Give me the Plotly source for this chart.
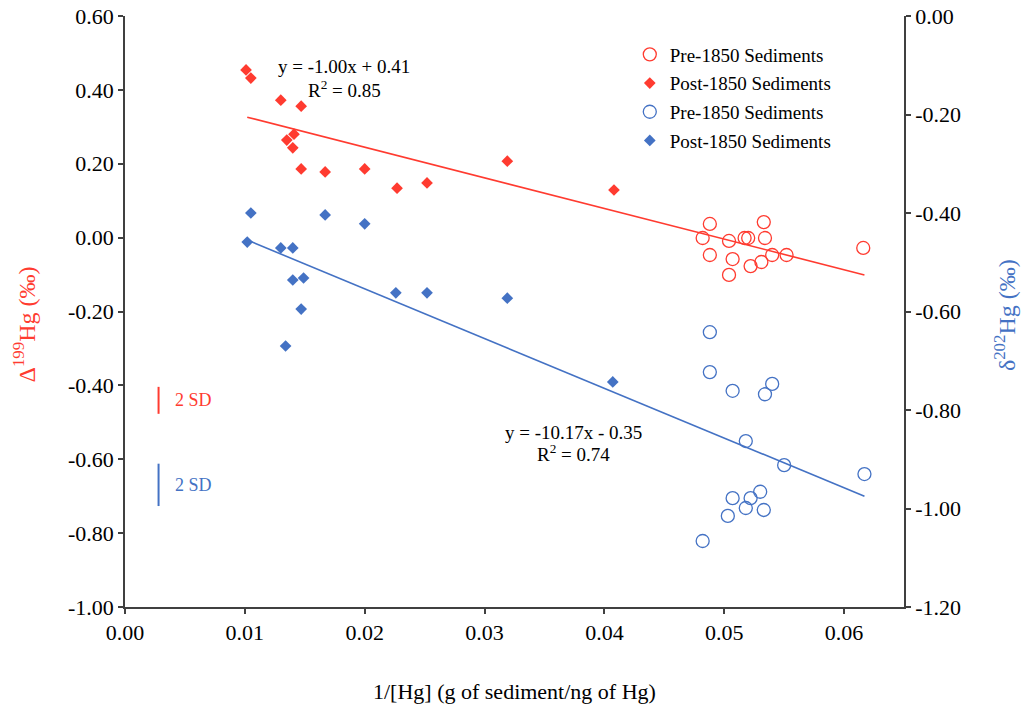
import plotly.graph_objects as go

RED = "#FF3B30"
BLUE = "#4472C4"
AXIS = "#404040"
FONT = "Liberation Serif"

# Post-1850 sediments
post_x_red = [0.0101, 0.0105, 0.0130, 0.0147, 0.0141, 0.0135, 0.0140, 0.0147,
              0.0167, 0.0200, 0.0227, 0.0252, 0.0319, 0.0408]
post_d199 = [0.454, 0.432, 0.372, 0.356, 0.280, 0.264, 0.243, 0.186,
             0.178, 0.186, 0.134, 0.148, 0.207, 0.129]
post_x_blue = [0.0105, 0.0102, 0.0130, 0.0140, 0.0140, 0.0149, 0.0147, 0.0134,
               0.0167, 0.0200, 0.0226, 0.0252, 0.0319, 0.0407]
post_d202 = [-0.400, -0.459, -0.471, -0.471, -0.536, -0.532, -0.595, -0.670,
             -0.404, -0.422, -0.562, -0.562, -0.573, -0.743]

# Pre-1850 sediments
pre_x_red = [0.0488, 0.0533, 0.0482, 0.0504, 0.0517, 0.0520, 0.0534, 0.0488,
             0.0507, 0.0540, 0.0552, 0.0522, 0.0531, 0.0504, 0.0616]
pre_d199 = [0.037, 0.042, -0.001, -0.009, -0.001, -0.001, -0.001, -0.047,
            -0.058, -0.047, -0.047, -0.077, -0.066, -0.101, -0.028]
pre_x_blue = [0.0488, 0.0488, 0.0507, 0.0540, 0.0534, 0.0518, 0.0550, 0.0617,
              0.0530, 0.0522, 0.0507, 0.0518, 0.0533, 0.0503, 0.0482]
pre_d202 = [-0.642, -0.723, -0.761, -0.747, -0.768, -0.863, -0.912, -0.930,
            -0.966, -0.979, -0.979, -0.999, -1.003, -1.015, -1.066]

# Linear fits (end points as drawn)
fit_x = [0.0102, 0.0617]
fit_d199 = [0.326, -0.101]
fit_d202 = [-0.455, -0.975]

# 2 SD bars
sd_x = 0.0028
sd_d199 = [-0.477, -0.404]
sd_d202 = [-0.995, -0.909]

# Axis ticks
x_ticks = [0.00, 0.01, 0.02, 0.03, 0.04, 0.05, 0.06]
x_labels = ["0.00", "0.01", "0.02", "0.03", "0.04", "0.05", "0.06"]
y1_ticks = [0.6, 0.4, 0.2, 0.0, -0.2, -0.4, -0.6, -0.8, -1.0]
y1_labels = ["0.60", "0.40", "0.20", "0.00", "-0.20", "-0.40", "-0.60", "-0.80", "-1.00"]
y2_ticks = [0.0, -0.2, -0.4, -0.6, -0.8, -1.0, -1.2]
y2_labels = ["0.00", "-0.20", "-0.40", "-0.60", "-0.80", "-1.00", "-1.20"]

fig = go.Figure()

# fit lines
fig.add_trace(go.Scatter(x=fit_x, y=fit_d199, mode="lines", line=dict(color=RED, width=1.6),
                         showlegend=False, hoverinfo="skip"))
fig.add_trace(go.Scatter(x=fit_x, y=fit_d202, mode="lines", line=dict(color=BLUE, width=1.6),
                         showlegend=False, hoverinfo="skip", yaxis="y2"))

fig.add_trace(go.Scatter(x=pre_x_red, y=pre_d199, mode="markers", name="Pre-1850 Sediments",
                         legendgroup="a",
                         marker=dict(symbol="circle-open", size=13, color=RED, line=dict(width=1.3, color=RED))))
fig.add_trace(go.Scatter(x=post_x_red, y=post_d199, mode="markers", name="Post-1850 Sediments",
                         legendgroup="b",
                         marker=dict(symbol="diamond", size=9, color=RED)))
fig.add_trace(go.Scatter(x=pre_x_blue, y=pre_d202, mode="markers", name="Pre-1850 Sediments",
                         legendgroup="c", yaxis="y2",
                         marker=dict(symbol="circle-open", size=13, color=BLUE, line=dict(width=1.3, color=BLUE))))
fig.add_trace(go.Scatter(x=post_x_blue, y=post_d202, mode="markers", name="Post-1850 Sediments",
                         legendgroup="d", yaxis="y2",
                         marker=dict(symbol="diamond", size=9, color=BLUE)))

fig.add_shape(type="line", xref="x", yref="y", x0=sd_x, x1=sd_x, y0=sd_d199[0], y1=sd_d199[1],
              line=dict(color=RED, width=2))
fig.add_shape(type="line", xref="x", yref="y2", x0=sd_x, x1=sd_x, y0=sd_d202[0], y1=sd_d202[1],
              line=dict(color=BLUE, width=2))

def ann(text, x, y, xref="x", yref="y", color="black", size=19, xanchor="center", angle=0):
    fig.add_annotation(text=text, x=x, y=y, xref=xref, yref=yref, showarrow=False,
                       xanchor=xanchor, yanchor="middle", textangle=angle,
                       font=dict(family=FONT, size=size, color=color))

ann("y = -1.00x + 0.41", 0.0183, 0.462)
ann("R<sup>2</sup> = 0.85", 0.0183, 0.402)
ann("y = -10.17x - 0.35", 0.03746, -0.845, yref="y2")
ann("R<sup>2</sup> = 0.74", 0.03746, -0.888, yref="y2")
ann("2 SD", 0.0040, sum(sd_d199) / 2, color=RED, size=18, xanchor="left")
ann("2 SD", 0.0040, sum(sd_d202) / 2, yref="y2", color=BLUE, size=18, xanchor="left")

ann("Δ<sup>199</sup>Hg (‰)", -0.1297, 0.478, xref="paper", yref="paper", color=RED, size=24, angle=-90)
ann("δ<sup>202</sup>Hg (‰)", 1.1297, 0.494, xref="paper", yref="paper", color=BLUE, size=24, angle=-90)
ann("1/[Hg] (g of sediment/ng of Hg)", 0.5, -0.1438, xref="paper", yref="paper", size=22)

axis_common = dict(showgrid=False, zeroline=False, showline=True, linecolor=AXIS, linewidth=1.5,
                   ticks="outside", ticklen=5, tickcolor=AXIS, tickwidth=1.5, automargin=False,
                   ticklabeloverflow="allow",
                   tickfont=dict(family=FONT, size=22, color="black"))

fig.update_layout(
    width=1027, height=715,
    margin=dict(l=125, r=123, t=16, b=108),
    paper_bgcolor="white", plot_bgcolor="white",
    showlegend=True,
    legend=dict(x=0.648, y=0.967, xanchor="left", yanchor="top", bgcolor="rgba(0,0,0,0)",
                font=dict(family=FONT, size=19, color="black"), tracegroupgap=1,
                traceorder="grouped"),
    xaxis=dict(range=[0, 0.065], tickvals=x_ticks, ticktext=x_labels, **axis_common),
    yaxis=dict(range=[-1.0, 0.6], tickvals=y1_ticks, ticktext=y1_labels, **axis_common),
    yaxis2=dict(range=[-1.2, 0.0], tickvals=y2_ticks, ticktext=y2_labels, overlaying="y",
                side="right", **axis_common),
)

fig.write_html("out.html", config={"displayModeBar": False},
               post_script="document.body.style.margin='0';document.body.style.padding='0';")
